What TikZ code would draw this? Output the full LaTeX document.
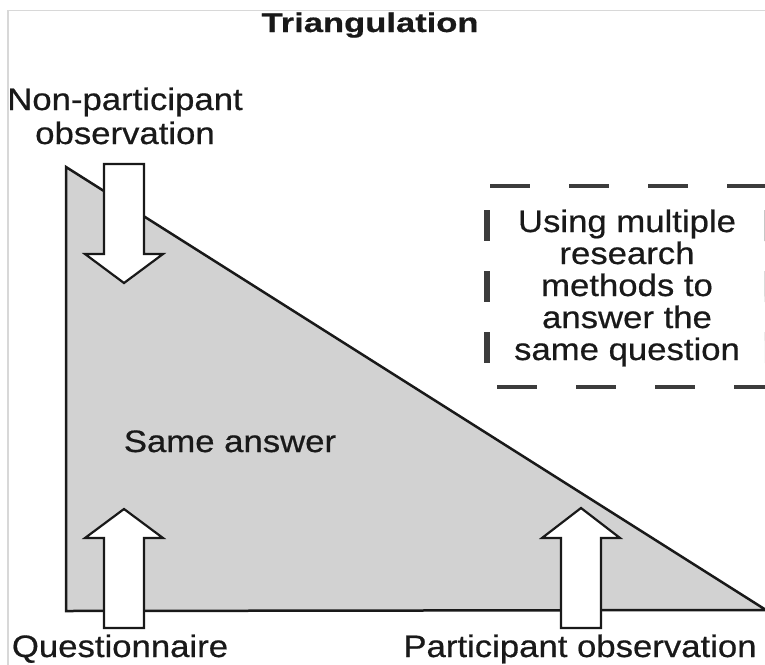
\documentclass[tikz,border=0pt]{standalone}
\usepackage{fontspec}
\newfontfamily\mainf[FakeStretch=1.12, FakeBold=0.6]{Liberation Sans}
\newfontfamily\titlef[FakeStretch=1.28, FakeBold=0.6]{Liberation Sans}
\definecolor{wedge}{RGB}{210,210,210}
\definecolor{ink}{RGB}{25,25,25}
\definecolor{dashink}{RGB}{60,60,60}
\definecolor{frame}{RGB}{216,216,216}
\tikzset{
  label/.style={inner sep=0pt, text=ink, align=center,
    font=\mainf\fontsize{31}{33}\selectfont},
  heading/.style={inner sep=0pt, text=ink, font=\titlef\bfseries\fontsize{27}{30}\selectfont},
  blockarrow/.style={fill=white, draw=ink, line width=2.2pt, line join=miter},
  wedgeshape/.style={fill=wedge, draw=ink, line width=2.5pt, line join=miter},
  dashh/.style={draw=dashink, line width=4pt, dash pattern=on 40pt off 39pt},
  dashv/.style={draw=dashink, line width=6pt, dash pattern=on 31pt off 30pt},
}
\begin{document}
\begin{tikzpicture}[x=1pt,y=-1pt]
  \useasboundingbox (0,0) rectangle (765,664);
  \clip (0,0) rectangle (765,664);
  % outer frame
  \draw[frame, line width=1.5pt] (8,680) -- (8,10.5) -- (780,10.5);

  % the right-angled wedge
  \coordinate (apex) at (66,167);
  \coordinate (corner) at (66,611);
  \coordinate (tipR) at (766,610);
  \path[wedgeshape] (apex) -- (corner) -- (tipR) -- cycle;

  % block arrows
  \path[blockarrow] (104,164) -- (144,164) -- (144,254) -- (163,254)
    -- (124,283) -- (85,254) -- (104,254) -- cycle;
  \path[blockarrow] (104,628) -- (144,628) -- (144,538) -- (163,538)
    -- (124,509) -- (85,538) -- (104,538) -- cycle;
  \path[blockarrow] (561,628) -- (601,628) -- (601,538) -- (620,538)
    -- (581,508) -- (542,538) -- (561,538) -- cycle;

  % dashed box
  \coordinate (bTR) at (768,186);
  \coordinate (bBL) at (487,387);
  \coordinate (bBR) at (768,387);
  \draw[dashh] (490,186) -- (bTR);
  \draw[dashh] (497,387) -- (bBR);
  \draw[dashv] (487,210) -- (bBL);
  \draw[dashv, draw=gray!45] (767,210) -- (bBR);

  % texts
  \node[heading, anchor=base] (title) at (370,32) {Triangulation};
  \node[label, anchor=base] (npo1) at (125,110) {Non-participant};
  \node[label, anchor=base] (npo2) at (125,144) {observation};
  \node[label, anchor=base] (same) at (230,452) {Same answer};
  \node[label, anchor=base] (quest) at (120,657) {Questionnaire};
  \node[label, anchor=base] (part) at (580,657) {Participant observation};
  \node[label, anchor=base] (def1) at (627,232) {Using multiple};
  \node[label, anchor=base] (def2) at (627,264) {research};
  \node[label, anchor=base] (def3) at (627,296) {methods to};
  \node[label, anchor=base] (def4) at (627,328) {answer the};
  \node[label, anchor=base] (def5) at (627,360) {same question};
\end{tikzpicture}
\end{document}
